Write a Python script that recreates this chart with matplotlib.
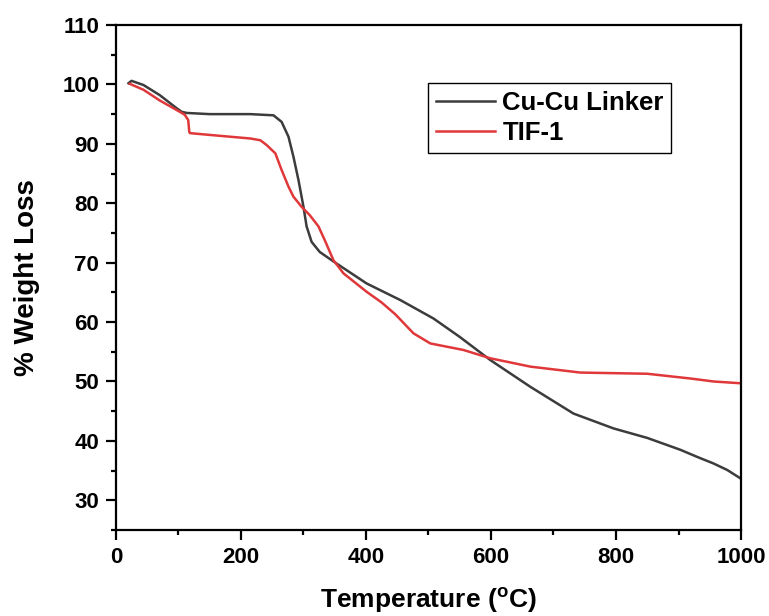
import numpy as np
import matplotlib
matplotlib.use("Agg")
import matplotlib.pyplot as plt
from matplotlib.ticker import MultipleLocator

plt.rcParams['font.family'] = ['Liberation Sans', 'DejaVu Sans']
plt.rcParams['font.weight'] = 'bold'

# Cu-Cu Linker
cu_temp = [20, 25, 44, 70, 97, 105, 113, 150, 215, 252, 265, 276, 284, 292, 300, 305, 313,
           326, 348, 401, 455, 508, 550, 599, 663, 732, 796, 850, 903, 930, 956, 978, 999]
cu_wt = [100.2, 100.6, 99.9, 98.2, 96.0, 95.4, 95.2, 95.0, 95.0, 94.8, 93.7, 91.2, 87.8, 83.9,
         79.4, 76.1, 73.5, 71.8, 70.2, 66.5, 63.7, 60.6, 57.5, 53.6, 49.1, 44.6, 42.1, 40.5,
         38.5, 37.3, 36.2, 35.1, 33.7]

# TIF-1
tif_temp = [22, 44, 70, 97, 110, 115.6, 117.3, 118.5, 150, 215, 231, 241, 255, 265, 276, 284,
            297, 310, 324, 334, 348, 364, 401, 425, 447, 476, 503, 556, 599, 663, 743, 850,
            919, 956, 999]
tif_wt = [100.1, 99.1, 97.3, 95.7, 94.9, 94.0, 92.0, 91.8, 91.5, 90.9, 90.6, 89.8, 88.4, 85.6,
          82.8, 81.1, 79.4, 78.0, 76.1, 73.8, 70.4, 68.2, 65.1, 63.3, 61.3, 58.1, 56.4, 55.3,
          53.9, 52.5, 51.5, 51.3, 50.5, 50.0, 49.7]

fig = plt.figure(figsize=(7.69, 6.16), dpi=100)
ax = fig.add_axes([0.1508, 0.1396, 0.8128, 0.8198])

ax.plot(cu_temp, cu_wt, color='#3c3c3c', lw=1.8, label='Cu-Cu Linker')
ax.plot(tif_temp, tif_wt, color='#e0383a', lw=1.8, label='TIF-1')

ax.set_xlim(0, 1000)
ax.set_ylim(25, 110)
ax.xaxis.set_major_locator(MultipleLocator(200))
ax.xaxis.set_minor_locator(MultipleLocator(100))
ax.yaxis.set_minor_locator(MultipleLocator(5))
ax.set_yticks(np.arange(30, 111, 10))

for s in ax.spines.values():
    s.set_linewidth(1.6)
ax.tick_params(which='major', direction='out', length=7, width=1.6, labelsize=16, pad=5)
ax.tick_params(which='minor', direction='out', length=3.5, width=1.6)

ax.set_xlabel('Temperature ($\\mathregular{^{o}}$C)', fontsize=19, fontweight='bold', labelpad=13)
ax.set_ylabel('% Weight Loss', fontsize=20, fontweight='bold', labelpad=16)

leg = ax.legend(loc='upper left', bbox_to_anchor=(0.499, 0.885), borderaxespad=0,
                fancybox=False, edgecolor='black', framealpha=1,
                prop={'size': 18.5, 'weight': 'bold'},
                handlelength=2.3, handletextpad=0.3, borderpad=0.3, labelspacing=0.25)
leg.get_frame().set_linewidth(1.0)

fig.savefig('out.png', dpi=100)
